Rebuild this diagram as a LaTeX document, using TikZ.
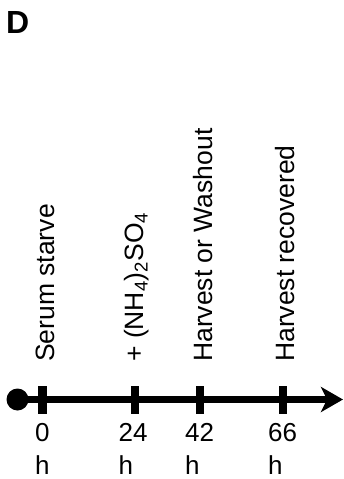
\documentclass[tikz,border=0pt]{standalone}
\usepackage{fontspec}
\setmainfont{Liberation Sans}
\usetikzlibrary{arrows.meta}
\begin{document}
\begin{tikzpicture}[x=1pt,y=1pt,
  lbl/.style={rotate=90,anchor=south west,inner sep=0pt,font=\fontsize{26.5}{30}\selectfont},
  hr/.style={anchor=north west,inner sep=0pt,align=left,font=\fontsize{26}{33}\selectfont},
  tickbar/.style={fill=black,minimum width=8.5pt,minimum height=28pt,inner sep=0pt}]
\useasboundingbox (0,0) rectangle (343,-479);
\node[anchor=north west,inner sep=0pt,font=\fontsize{32}{36}\selectfont\bfseries] (D) at (6,-11) {D};
\node[circle,fill=black,minimum size=22pt,inner sep=0pt] (start) at (17.5,-399.5) {};
\coordinate (end) at (343,-399.5);
\draw[line width=6.5pt,-{Stealth[length=22pt,width=25pt,inset=6pt]}] (start.center) -- (end);
\node[tickbar] (t0) at (42.5,-400) {};
\node[tickbar] (t24) at (135,-400) {};
\node[tickbar] (t42) at (200,-400) {};
\node[tickbar] (t66) at (283,-400) {};
\node[hr] (h0) at (35,-423) {0\\h};
\node[hr] (h24) at (118.5,-423) {24\\h};
\node[hr] (h42) at (185,-423) {42\\h};
\node[hr] (h66) at (268,-423) {66\\h};
\node[lbl] (l0) at (55,-362) {Serum starve};
\node[lbl] (l24) at (149,-362) {+ (NH\textsubscript{4})\textsubscript{2}SO\textsubscript{4}};
\node[lbl] (l42) at (213,-362) {Harvest or Washout};
\node[lbl] (l66) at (295,-362) {Harvest recovered};
\end{tikzpicture}
\end{document}
